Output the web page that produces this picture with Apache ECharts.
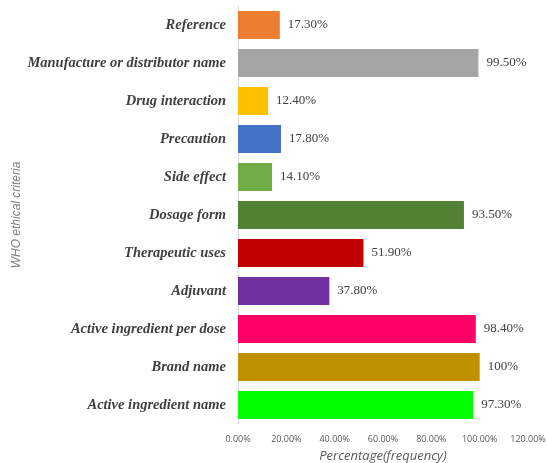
<!DOCTYPE html>
<html>
<head>
<meta charset="utf-8">
<script src="https://cdn.jsdelivr.net/npm/echarts@6/dist/echarts.min.js"></script>
<style>
html, body { margin: 0; padding: 0; background: #fff; }
#main { width: 547px; height: 463px; }
</style>
</head>
<body>
<div id="main"></div>
<script>
// categories, bottom to top
var criteria = ['Active ingredient name', 'Brand name', 'Active ingredient per dose', 'Adjuvant',
	'Therapeutic uses', 'Dosage form', 'Side effect', 'Precaution', 'Drug interaction',
	'Manufacture or distributor name', 'Reference'];
var percents = [97.3, 100, 98.4, 37.8, 51.9, 93.5, 14.1, 17.8, 12.4, 99.5, 17.3];
var percentLabels = ['97.30%', '100%', '98.40%', '37.80%', '51.90%', '93.50%', '14.10%',
	'17.80%', '12.40%', '99.50%', '17.30%'];
var barColors = ['#00FF00', '#BF9000', '#FF0066', '#7030A0', '#C00000', '#548235', '#70AD47',
	'#4472C4', '#FFC000', '#A5A5A5', '#ED7D31'];
var xTicks = [0, 20, 40, 60, 80, 100, 120];

var data = [];
for (var i = 0; i < percents.length; i++) {
	data.push({
		value: percents[i],
		itemStyle: { color: barColors[i] },
		label: { formatter: percentLabels[i] }
	});
}

var option = {
	animation: false,
	grid: { left: 238, right: 19, top: 6, bottom: 39, outerBoundsMode: 'none', containLabel: false },
	xAxis: {
		type: 'value',
		min: xTicks[0],
		max: xTicks[xTicks.length - 1],
		interval: 20,
		axisLine: { show: false },
		axisTick: { show: false },
		splitLine: { show: false },
		axisLabel: {
			color: '#595959',
			fontFamily: 'Open Sans',
			fontSize: 9,
			margin: 11,
			formatter: function (v) { return v.toFixed(2) + '%'; }
		},
		name: 'Percentage(frequency)',
		nameLocation: 'middle',
		nameGap: 26,
		nameMoveOverlap: false,
		nameTextStyle: { color: '#595959', fontFamily: 'Open Sans', fontStyle: 'italic', fontSize: 13 }
	},
	yAxis: {
		type: 'category',
		data: criteria,
		axisLine: { show: true, lineStyle: { color: '#D9D9D9', width: 1 } },
		axisTick: { show: false },
		axisLabel: {
			color: '#404040',
			fontFamily: 'Liberation Serif',
			fontStyle: 'italic',
			fontWeight: 'bold',
			fontSize: 14.5,
			margin: 12
		},
		name: 'WHO ethical criteria',
		nameLocation: 'middle',
		nameGap: 215,
		nameMoveOverlap: false,
		nameTextStyle: { color: '#7f7f7f', fontFamily: 'Liberation Sans', fontStyle: 'italic', fontSize: 12 }
	},
	series: [{
		type: 'bar',
		data: data,
		barWidth: 28,
		label: {
			show: true,
			position: 'right',
			distance: 8,
			color: '#404040',
			fontFamily: 'Liberation Serif',
			fontSize: 13
		}
	}]
};

var myChart = echarts.init(document.getElementById('main'));
myChart.setOption(option);
</script>
</body>
</html>
